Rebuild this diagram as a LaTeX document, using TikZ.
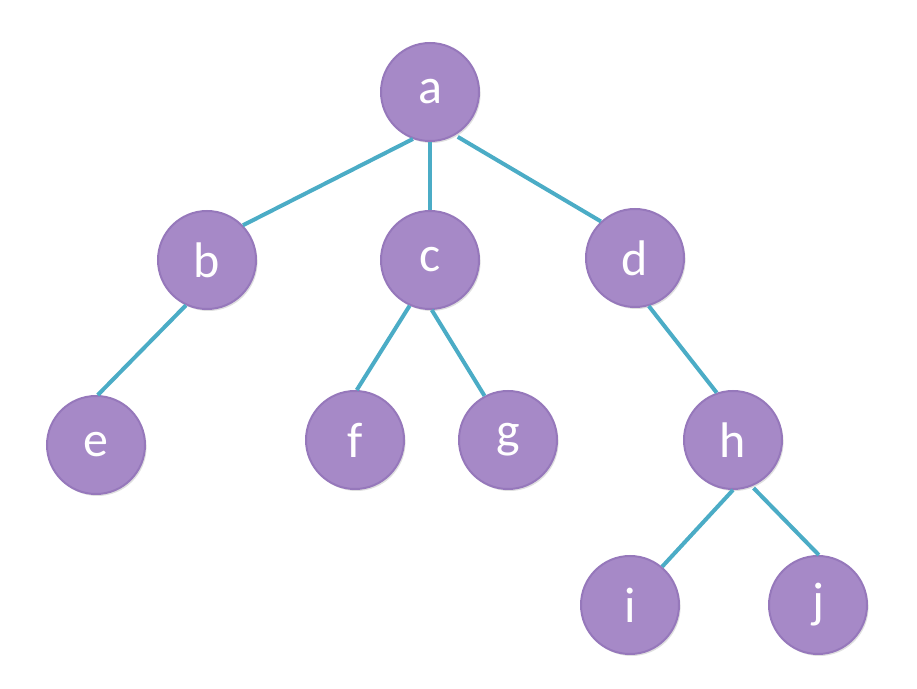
\documentclass[tikz,border=0pt]{standalone}
\usepackage{fontspec}
\setmainfont{Carlito}
\usetikzlibrary{shadows}
\definecolor{nodepurple}{RGB}{166,137,199}
\definecolor{rimpurple}{RGB}{150,120,187}
\definecolor{edgeteal}{RGB}{75,172,198}
\tikzset{
  vertex/.style={circle, minimum size=49pt, inner sep=0pt, fill=nodepurple,
    draw=rimpurple, line width=1pt, text=white, font=\fontsize{25}{25}\selectfont,
    drop shadow={shadow xshift=0.8pt, shadow yshift=-1pt, opacity=0.25}},
  branch/.style={edgeteal, line width=2pt}
}
\begin{document}
\begin{tikzpicture}[x=0.5pt,y=-0.5pt]
    % Fix the page size to the reference
    \useasboundingbox (0,0) rectangle (917,689);
    % Draw the vertices of the tree
    \node[vertex] (a) at (430,92) {a};
    \node[vertex] (b) at (207,260) {b};
    \node[vertex] (c) at (430,260) {c};
    \node[vertex] (d) at (635,258) {d};
    \node[vertex] (e) at (96,445) {e};
    \node[vertex] (f) at (355,440) {f};
    \node[vertex] (g) at (508,440) {g};
    \node[vertex] (h) at (733,440) {h};
    \node[vertex] (i) at (630,605) {i};
    \node[vertex] (j) at (818,605) {j};

    % Draw the branches between the vertices
    \draw[branch] (a.250) -- (b.44);
    \draw[branch] (a.270) -- (c.90);
    \draw[branch] ([shift={(2,2)}]a.301) -- (d.133);
    \draw[branch] (b.245) -- (e.88);
    \draw[branch] (c.246) -- (f.88);
    \draw[branch] (c.272) -- (g.118);
    \draw[branch] (d.286) -- (h.109);
    \draw[branch] (h.270) -- (i.50);
    \draw[branch] ([shift={(1,2)}]h.293) -- (j.89);
\end{tikzpicture}
\end{document}
